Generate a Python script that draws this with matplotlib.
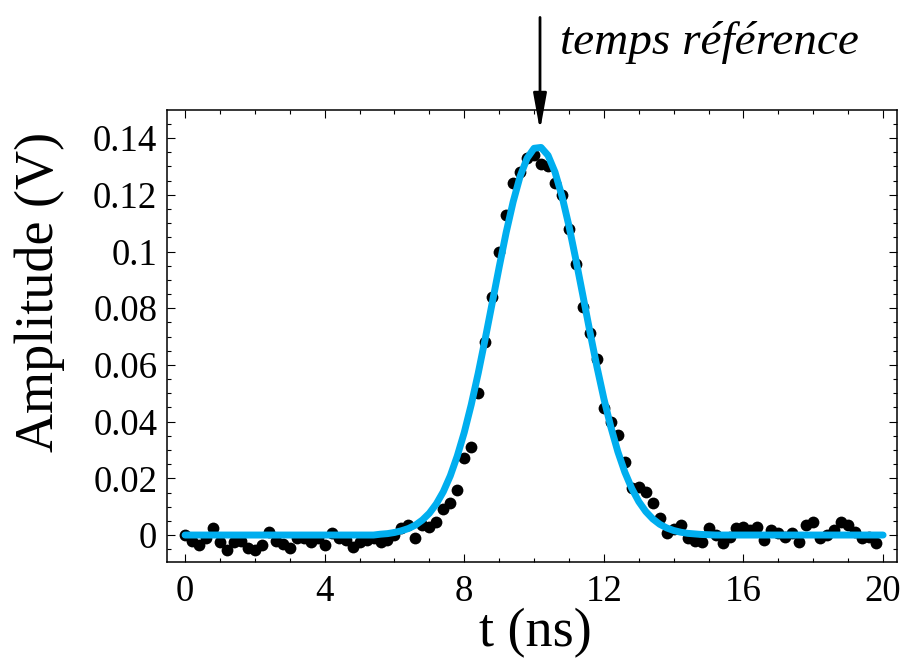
import numpy as np
import matplotlib
matplotlib.use('Agg')
import matplotlib.pyplot as plt
from matplotlib.ticker import MultipleLocator, FixedLocator

plt.rcParams['font.family'] = ['Liberation Serif', 'DejaVu Serif']

# measured samples (ns, V), one every 0.2 ns
t_data = np.round(np.arange(0, 19.81, 0.2), 1)
amp_data = [0.0000, -0.0020, -0.0035, -0.0010, 0.0025, -0.0025, -0.0053, -0.0025, -0.0020, -0.0046,
            -0.0053, -0.0035, 0.0010, -0.0020, -0.0030, -0.0046, -0.0010, -0.0012, -0.0025, -0.0010,
            -0.0035, 0.0007, -0.0010, -0.0018, -0.0042, -0.0025, -0.0018, -0.0010, -0.0025, -0.0018,
            0.0000, 0.0025, 0.0035, -0.0010, 0.0035, 0.0030, 0.0046, 0.0092, 0.0113, 0.0159,
            0.0270, 0.0310, 0.0500, 0.0680, 0.0840, 0.1000, 0.1130, 0.1240, 0.1280, 0.1330,
            0.1340, 0.1310, 0.1300, 0.1240, 0.1200, 0.1080, 0.0956, 0.0804, 0.0712, 0.0621,
            0.0448, 0.0398, 0.0353, 0.0257, 0.0166, 0.0170, 0.0152, 0.0113, 0.0060, 0.0007,
            0.0020, 0.0035, -0.0010, -0.0020, -0.0025, 0.0025, 0.0000, -0.0028, -0.0007, 0.0025,
            0.0028, 0.0018, 0.0028, -0.0018, 0.0018, 0.0007, -0.0007, 0.0007, -0.0025, 0.0035,
            0.0046, -0.0010, 0.0000, 0.0018, 0.0046, 0.0035, 0.0010, -0.0010, -0.0007, -0.0028]

# fitted pulse, every 0.2 ns
t_fit = np.round(np.arange(0, 20.01, 0.2), 1)
amp_fit = ([0.0] * 28 +
           [0.0003, 0.0005, 0.0009, 0.0015, 0.0023, 0.0035, 0.0053, 0.0077, 0.0110, 0.0153,
            0.0209, 0.0279, 0.0362, 0.0460, 0.0571, 0.0692, 0.0818, 0.0945, 0.1067, 0.1175,
            0.1265, 0.1329, 0.1364, 0.1367, 0.1339, 0.1280, 0.1195, 0.1090, 0.0970, 0.0844,
            0.0717, 0.0594, 0.0481, 0.0381, 0.0294, 0.0222, 0.0164, 0.0118, 0.0083, 0.0057,
            0.0038, 0.0025, 0.0016, 0.0010, 0.0006, 0.0004, 0.0002, 0.0001] +
           [0.0] * 25)

t_ref = 10.17
xticks = [0, 4, 8, 12, 16, 20]
yticks = [0, 0.02, 0.04, 0.06, 0.08, 0.1, 0.12, 0.14]
ytick_labels = ['0', '0.02', '0.04', '0.06', '0.08', '0.1', '0.12', '0.14']

fig = plt.figure(figsize=(9.03, 6.66), dpi=100)
ax = fig.add_axes([0.185, 0.1562, 0.8084, 0.6786])

ax.plot(t_data, amp_data, 'o', color='black', ms=8.5, mew=0, zorder=2)
ax.plot(t_fit, amp_fit, '-', color='#00aeef', lw=5, solid_capstyle='round',
        solid_joinstyle='round', zorder=3)

ax.set_xlim(-0.516, 20.40)
ax.set_ylim(-0.0095, 0.1499)

ax.xaxis.set_major_locator(FixedLocator(xticks))
ax.xaxis.set_minor_locator(MultipleLocator(1))
ax.yaxis.set_major_locator(FixedLocator(yticks))
ax.yaxis.set_minor_locator(MultipleLocator(0.005))
ax.set_yticklabels(ytick_labels)

ax.tick_params(which='both', direction='in', top=True, right=True, width=0.8, labelsize=26.5)
ax.tick_params(which='major', length=5.5)
ax.tick_params(which='minor', length=3)
ax.tick_params(axis='x', pad=9)
ax.tick_params(axis='y', pad=7)
for s in ax.spines.values():
    s.set_linewidth(1.1)

fig.text(535 / 903, 1 - 633 / 666, 't (ns)', fontsize=39, ha='center', va='center')
fig.text(40 / 903, 1 - 292 / 666, 'Amplitude (V)', fontsize=39, ha='center', va='center', rotation=90)

# arrow marking the reference time
ax.annotate('', xy=(t_ref, 0.1417), xycoords='data',
            xytext=(t_ref, 0.978), textcoords=('data', 'figure fraction'),
            arrowprops=dict(arrowstyle='-|>,head_length=2.2,head_width=0.4', color='black', lw=2),
            annotation_clip=False)
fig.text(560 / 903, 1 - 42 / 666, 'temps référence', fontsize=34, style='italic',
         ha='left', va='center')

fig.savefig('out.png', dpi=100)
